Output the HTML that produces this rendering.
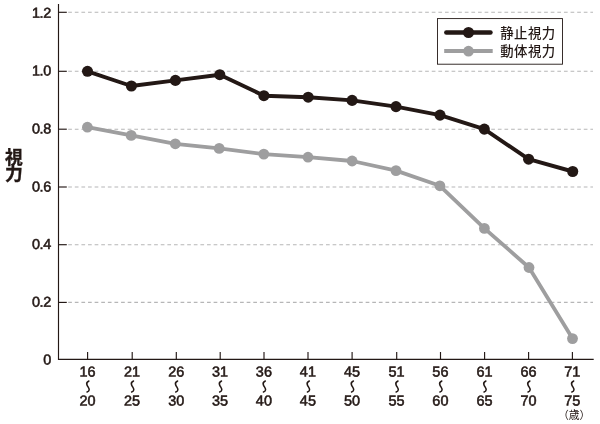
<!DOCTYPE html>
<html lang="ja"><head><meta charset="utf-8"><title>視力</title>
<style>html,body{margin:0;padding:0;background:#fff;}body{width:600px;height:424px;overflow:hidden;}svg{display:block;will-change:transform;}text{font-family:"Liberation Sans","Noto Sans CJK JP",sans-serif;font-size:14.45px;fill:#231815;stroke:#231815;stroke-width:0.55px;}</style></head><body>
<svg width="600" height="424" viewBox="0 0 600 424">
<title>年齢別の静止視力と動体視力</title>
<desc>縦軸: 視力 (0〜1.2)、横軸: 年齢 (16〜20歳 から 71〜75歳)。凡例: 静止視力、動体視力。</desc>
<rect x="0" y="0" width="600" height="424" fill="#ffffff"/>
<g stroke="#b6b6b7" stroke-width="1.1" stroke-dasharray="3.7 2.91" fill="none">
<line x1="68.2" y1="12.3" x2="593" y2="12.3"/>
<line x1="68.2" y1="71.3" x2="593" y2="71.3"/>
<line x1="68.2" y1="129.2" x2="593" y2="129.2"/>
<line x1="68.2" y1="187.0" x2="593" y2="187.0"/>
<line x1="68.2" y1="244.7" x2="593" y2="244.7"/>
<line x1="68.2" y1="302.4" x2="593" y2="302.4"/>
</g>
<g stroke="#231815" stroke-width="1.15" fill="none">
<path d="M58.5,4.0 V359.35 H593.7"/>
<line x1="58.5" y1="12.3" x2="66.8" y2="12.3"/>
<line x1="58.5" y1="71.3" x2="66.8" y2="71.3"/>
<line x1="58.5" y1="129.2" x2="66.8" y2="129.2"/>
<line x1="58.5" y1="187.0" x2="66.8" y2="187.0"/>
<line x1="58.5" y1="244.7" x2="66.8" y2="244.7"/>
<line x1="58.5" y1="302.4" x2="66.8" y2="302.4"/>
<line x1="87.6" y1="352" x2="87.6" y2="359.35"/>
<line x1="132.2" y1="352" x2="132.2" y2="359.35"/>
<line x1="176.3" y1="352" x2="176.3" y2="359.35"/>
<line x1="220.2" y1="352" x2="220.2" y2="359.35"/>
<line x1="264.0" y1="352" x2="264.0" y2="359.35"/>
<line x1="308.0" y1="352" x2="308.0" y2="359.35"/>
<line x1="352.1" y1="352" x2="352.1" y2="359.35"/>
<line x1="396.7" y1="352" x2="396.7" y2="359.35"/>
<line x1="440.5" y1="352" x2="440.5" y2="359.35"/>
<line x1="484.6" y1="352" x2="484.6" y2="359.35"/>
<line x1="528.6" y1="352" x2="528.6" y2="359.35"/>
<line x1="572.4" y1="352" x2="572.4" y2="359.35"/>
</g>
<text x="50.8" y="17.70" text-anchor="end" letter-spacing="-0.4" transform="rotate(0.05 50.8 17.70)">1.2</text>
<text x="50.8" y="75.60" text-anchor="end" letter-spacing="-0.4" transform="rotate(0.05 50.8 75.60)">1.0</text>
<text x="50.8" y="133.50" text-anchor="end" letter-spacing="-0.4" transform="rotate(0.05 50.8 133.50)">0.8</text>
<text x="50.8" y="191.50" text-anchor="end" letter-spacing="-0.4" transform="rotate(0.05 50.8 191.50)">0.6</text>
<text x="50.8" y="249.00" text-anchor="end" letter-spacing="-0.4" transform="rotate(0.05 50.8 249.00)">0.4</text>
<text x="50.8" y="306.80" text-anchor="end" letter-spacing="-0.4" transform="rotate(0.05 50.8 306.80)">0.2</text>
<text x="51.4" y="364.50" text-anchor="end" transform="rotate(0.05 51.4 364.50)">0</text>
<text x="87.5" y="376.5" text-anchor="middle" transform="rotate(0.05 87.5 376.5)">16</text>
<text x="87.5" y="405.6" text-anchor="middle" transform="rotate(0.05 87.5 405.6)">20</text>
<path d="M88.9,381 C87.5,381.6 86.2,383 87.0,385 C87.7,386.8 89.4,388 89.2,389.8 C89.1,391 88.1,391.7 87.1,392" fill="none" stroke="#231815" stroke-width="1.55" stroke-linecap="round"/>
<text x="132.1" y="376.5" text-anchor="middle" transform="rotate(0.05 132.1 376.5)">21</text>
<text x="132.1" y="405.6" text-anchor="middle" transform="rotate(0.05 132.1 405.6)">25</text>
<path d="M133.5,381 C132.1,381.6 130.8,383 131.6,385 C132.3,386.8 134.0,388 133.8,389.8 C133.7,391 132.7,391.7 131.7,392" fill="none" stroke="#231815" stroke-width="1.55" stroke-linecap="round"/>
<text x="176.2" y="376.5" text-anchor="middle" transform="rotate(0.05 176.2 376.5)">26</text>
<text x="176.2" y="405.6" text-anchor="middle" transform="rotate(0.05 176.2 405.6)">30</text>
<path d="M177.6,381 C176.2,381.6 174.9,383 175.7,385 C176.4,386.8 178.1,388 177.9,389.8 C177.8,391 176.8,391.7 175.8,392" fill="none" stroke="#231815" stroke-width="1.55" stroke-linecap="round"/>
<text x="220.1" y="376.5" text-anchor="middle" transform="rotate(0.05 220.1 376.5)">31</text>
<text x="220.1" y="405.6" text-anchor="middle" transform="rotate(0.05 220.1 405.6)">35</text>
<path d="M221.5,381 C220.1,381.6 218.8,383 219.6,385 C220.3,386.8 222.0,388 221.8,389.8 C221.7,391 220.7,391.7 219.7,392" fill="none" stroke="#231815" stroke-width="1.55" stroke-linecap="round"/>
<text x="263.9" y="376.5" text-anchor="middle" transform="rotate(0.05 263.9 376.5)">36</text>
<text x="263.9" y="405.6" text-anchor="middle" transform="rotate(0.05 263.9 405.6)">40</text>
<path d="M265.3,381 C263.9,381.6 262.6,383 263.4,385 C264.1,386.8 265.8,388 265.6,389.8 C265.5,391 264.5,391.7 263.5,392" fill="none" stroke="#231815" stroke-width="1.55" stroke-linecap="round"/>
<text x="307.9" y="376.5" text-anchor="middle" transform="rotate(0.05 307.9 376.5)">41</text>
<text x="307.9" y="405.6" text-anchor="middle" transform="rotate(0.05 307.9 405.6)">45</text>
<path d="M309.3,381 C307.9,381.6 306.6,383 307.4,385 C308.1,386.8 309.8,388 309.6,389.8 C309.5,391 308.5,391.7 307.5,392" fill="none" stroke="#231815" stroke-width="1.55" stroke-linecap="round"/>
<text x="352.0" y="376.5" text-anchor="middle" transform="rotate(0.05 352.0 376.5)">45</text>
<text x="352.0" y="405.6" text-anchor="middle" transform="rotate(0.05 352.0 405.6)">50</text>
<path d="M353.4,381 C352.0,381.6 350.7,383 351.5,385 C352.2,386.8 353.9,388 353.7,389.8 C353.6,391 352.6,391.7 351.6,392" fill="none" stroke="#231815" stroke-width="1.55" stroke-linecap="round"/>
<text x="396.6" y="376.5" text-anchor="middle" transform="rotate(0.05 396.6 376.5)">51</text>
<text x="396.6" y="405.6" text-anchor="middle" transform="rotate(0.05 396.6 405.6)">55</text>
<path d="M398.0,381 C396.6,381.6 395.3,383 396.1,385 C396.8,386.8 398.5,388 398.3,389.8 C398.2,391 397.2,391.7 396.2,392" fill="none" stroke="#231815" stroke-width="1.55" stroke-linecap="round"/>
<text x="440.4" y="376.5" text-anchor="middle" transform="rotate(0.05 440.4 376.5)">56</text>
<text x="440.4" y="405.6" text-anchor="middle" transform="rotate(0.05 440.4 405.6)">60</text>
<path d="M441.8,381 C440.4,381.6 439.1,383 439.9,385 C440.6,386.8 442.3,388 442.1,389.8 C442.0,391 441.0,391.7 440.0,392" fill="none" stroke="#231815" stroke-width="1.55" stroke-linecap="round"/>
<text x="484.5" y="376.5" text-anchor="middle" transform="rotate(0.05 484.5 376.5)">61</text>
<text x="484.5" y="405.6" text-anchor="middle" transform="rotate(0.05 484.5 405.6)">65</text>
<path d="M485.9,381 C484.5,381.6 483.2,383 484.0,385 C484.7,386.8 486.4,388 486.2,389.8 C486.1,391 485.1,391.7 484.1,392" fill="none" stroke="#231815" stroke-width="1.55" stroke-linecap="round"/>
<text x="528.5" y="376.5" text-anchor="middle" transform="rotate(0.05 528.5 376.5)">66</text>
<text x="528.5" y="405.6" text-anchor="middle" transform="rotate(0.05 528.5 405.6)">70</text>
<path d="M529.9,381 C528.5,381.6 527.2,383 528.0,385 C528.7,386.8 530.4,388 530.2,389.8 C530.1,391 529.1,391.7 528.1,392" fill="none" stroke="#231815" stroke-width="1.55" stroke-linecap="round"/>
<text x="572.3" y="376.5" text-anchor="middle" transform="rotate(0.05 572.3 376.5)">71</text>
<text x="572.3" y="405.6" text-anchor="middle" transform="rotate(0.05 572.3 405.6)">75</text>
<path d="M573.7,381 C572.3,381.6 571.0,383 571.8,385 C572.5,386.8 574.2,388 574.0,389.8 C573.9,391 572.9,391.7 571.9,392" fill="none" stroke="#231815" stroke-width="1.55" stroke-linecap="round"/>
<text x="574.2" y="418.7" text-anchor="middle" style="font-size:10.8px;stroke:none;">（歳）</text>
<text x="13.9" y="163.6" text-anchor="middle" style="font-size:17.8px;stroke-width:0.4px;font-weight:bold;">視</text>
<text x="13.9" y="180.1" text-anchor="middle" style="font-size:17.8px;stroke-width:0.4px;font-weight:bold;">力</text>
<path d="M87.4,127.2 L131.2,135.4 L175.3,143.8 L219.2,148.4 L263.8,154.1 L308.0,157.2 L352.1,161.0 L396.0,170.6 L439.9,185.8 L484.4,228.4 L529.0,267.5 L572.5,338.6" fill="none" stroke="#9e9e9f" stroke-width="3.8" stroke-linejoin="round" stroke-linecap="round"/>
<circle cx="87.4" cy="127.2" r="5.4" fill="#9e9e9f"/>
<circle cx="131.2" cy="135.4" r="5.4" fill="#9e9e9f"/>
<circle cx="175.3" cy="143.8" r="5.4" fill="#9e9e9f"/>
<circle cx="219.2" cy="148.4" r="5.4" fill="#9e9e9f"/>
<circle cx="263.8" cy="154.1" r="5.4" fill="#9e9e9f"/>
<circle cx="308.0" cy="157.2" r="5.4" fill="#9e9e9f"/>
<circle cx="352.1" cy="161.0" r="5.4" fill="#9e9e9f"/>
<circle cx="396.0" cy="170.6" r="5.4" fill="#9e9e9f"/>
<circle cx="439.9" cy="185.8" r="5.4" fill="#9e9e9f"/>
<circle cx="484.4" cy="228.4" r="5.4" fill="#9e9e9f"/>
<circle cx="529.0" cy="267.5" r="5.4" fill="#9e9e9f"/>
<circle cx="572.5" cy="338.6" r="5.4" fill="#9e9e9f"/>
<path d="M87.5,71.3 L131.4,86.0 L175.4,80.4 L219.8,74.7 L263.9,95.7 L308.2,97.2 L352.1,100.4 L396.0,106.6 L440.0,115.1 L484.3,129.1 L528.6,159.2 L572.7,171.5" fill="none" stroke="#231815" stroke-width="3.9" stroke-linejoin="round" stroke-linecap="round"/>
<circle cx="87.5" cy="71.3" r="5.55" fill="#231815"/>
<circle cx="131.4" cy="86.0" r="5.55" fill="#231815"/>
<circle cx="175.4" cy="80.4" r="5.55" fill="#231815"/>
<circle cx="219.8" cy="74.7" r="5.55" fill="#231815"/>
<circle cx="263.9" cy="95.7" r="5.55" fill="#231815"/>
<circle cx="308.2" cy="97.2" r="5.55" fill="#231815"/>
<circle cx="352.1" cy="100.4" r="5.55" fill="#231815"/>
<circle cx="396.0" cy="106.6" r="5.55" fill="#231815"/>
<circle cx="440.0" cy="115.1" r="5.55" fill="#231815"/>
<circle cx="484.3" cy="129.1" r="5.55" fill="#231815"/>
<circle cx="528.6" cy="159.2" r="5.55" fill="#231815"/>
<circle cx="572.7" cy="171.5" r="5.55" fill="#231815"/>
<rect x="437.5" y="18.6" width="125" height="45.6" fill="#fff" stroke="#231815" stroke-width="0.9"/>
<line x1="446.3" y1="32.5" x2="490.5" y2="32.5" stroke="#231815" stroke-width="4.4" stroke-linecap="round"/>
<circle cx="468.5" cy="32.5" r="5.5" fill="#231815"/>
<line x1="444.2" y1="50.9" x2="492.7" y2="50.9" stroke="#9e9e9f" stroke-width="4.0"/>
<circle cx="468.5" cy="51.2" r="5.4" fill="#9e9e9f"/>
<text x="500.3" y="38.44" style="font-size:13.4px;stroke:none;font-weight:500;" letter-spacing="0.4">静止視力</text>
<text x="500.3" y="56.09" style="font-size:13.4px;stroke:none;font-weight:500;" letter-spacing="0.4">動体視力</text>
</svg></body></html>
